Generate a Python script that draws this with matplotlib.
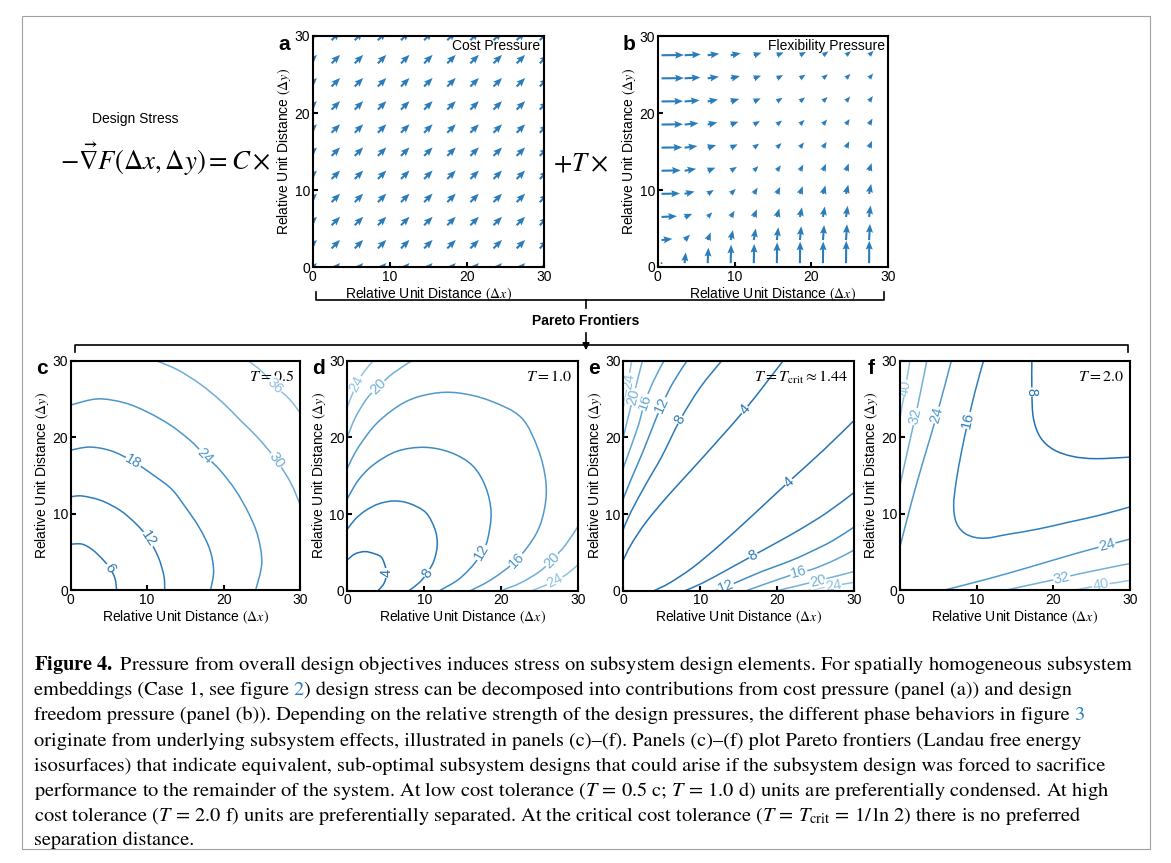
import numpy as np
import matplotlib
matplotlib.use("Agg")
import matplotlib.pyplot as plt
from matplotlib.patches import Rectangle, PathPatch
from matplotlib.path import Path

plt.rcParams['font.family'] = ['Liberation Sans', 'DejaVu Sans']
plt.rcParams['mathtext.fontset'] = 'stix'

W, H = 1171, 863

# ---------------- data ----------------
ticks = [0, 10, 20, 30]

# (a) cost pressure: same vector everywhere
cost_grid = [0, 3, 6, 9, 12, 15, 18, 21, 24, 27, 30]
cost_dx = 1.1
cost_dy = 1.1

# (b) flexibility pressure
# row = own coordinate (x for the x-component), col = the other coordinate
flex_grid = [0.5, 3.5, 6.5, 9.5, 12.5, 15.5, 18.5, 21.5, 24.5, 27.5]
flex_own = [
    [0.00, 1.40, 2.00, 2.40, 2.50, 2.70, 2.80, 2.80, 2.90, 2.90],
    [0.15, 0.70, 1.00, 1.30, 1.50, 1.65, 1.80, 1.95, 2.05, 2.10],
    [0.10, 0.40, 0.60, 0.80, 1.00, 1.10, 1.25, 1.35, 1.45, 1.50],
    [0.05, 0.30, 0.50, 0.65, 0.80, 0.90, 1.00, 1.10, 1.20, 1.30],
    [0.05, 0.25, 0.40, 0.50, 0.60, 0.70, 0.80, 0.90, 0.95, 1.00],
    [0.04, 0.20, 0.33, 0.43, 0.52, 0.60, 0.68, 0.75, 0.82, 0.88],
    [0.04, 0.18, 0.28, 0.37, 0.45, 0.52, 0.60, 0.66, 0.72, 0.78],
    [0.03, 0.15, 0.25, 0.33, 0.40, 0.47, 0.53, 0.59, 0.64, 0.70],
    [0.03, 0.13, 0.22, 0.30, 0.36, 0.42, 0.48, 0.53, 0.58, 0.63],
    [0.03, 0.12, 0.20, 0.27, 0.33, 0.38, 0.44, 0.49, 0.53, 0.58],
]

# (c) T = 0.5
c_levels = [6, 12, 18, 24, 30, 36]
c_paths = [
    [(0, 6.0), (1.5, 6.0), (2.8, 5.3), (4.0, 4.2), (5.1, 2.9), (5.8, 1.5), (6.0, 0)],
    [(0, 12.2), (1.5, 12.3), (4, 11.7), (6.5, 10.4), (8.6, 8.6), (10.2, 6.7), (11.5, 4.2), (12.2, 1.8), (12.3, 0)],
    [(0, 18.3), (2.5, 18.7), (5.3, 18.2), (8.2, 16.8), (11, 14.9), (13.2, 13.2), (14.9, 11), (16.8, 8.2),
     (18.2, 5.3), (18.7, 2.5), (18.3, 0)],
    [(0, 24.2), (3.5, 25), (7, 24.5), (10, 23.3), (13, 21.6), (15.6, 19.6), (17.6, 17.6), (19.6, 15.6),
     (21.6, 13), (23.3, 10), (24.5, 7), (25, 3.5), (24.2, 0)],
    [(11.2, 30), (14, 28.8), (17, 26.9), (19.8, 24.6), (22.2, 22.2), (24.6, 19.8), (26.9, 17), (28.8, 14), (30, 11.2)],
    [(23.2, 30), (25, 28.6), (26.7, 26.7), (28.6, 25), (30, 23.2)],
]
c_label_at = [4, 5, 3, 6, 6, 2]

# (d) T = 1.0
d_levels = [4, 8, 12, 16, 20, 20, 24, 24]
d_paths = [
    [(0, 4), (1, 4.8), (2.3, 5.1), (3.6, 4.8), (4.4, 4.4), (4.8, 3.6), (5.1, 2.3), (4.8, 1), (4, 0)],
    [(0, 8), (1, 9.3), (2.3, 10.4), (4, 11.3), (6, 11.7), (8, 11.4), (10.2, 10.2), (11.4, 8), (11.7, 6),
     (11.3, 4), (10.4, 2.3), (9.3, 1), (8, 0)],
    [(0, 12), (1.5, 14.5), (3.5, 16.5), (6.5, 18.2), (10.1, 18.7), (13.5, 18), (16.3, 16.3), (18, 13.5),
     (18.7, 10.1), (18.2, 6.5), (17.4, 5.0), (16.5, 3.5), (14.5, 1.5), (12, 0)],
    [(0, 16), (1.5, 18.8), (4, 22), (7.5, 24.6), (11, 25.7), (14.4, 25.8), (18.5, 24.8), (22.6, 22.6),
     (24.8, 18.5), (25.8, 14.4), (25.7, 11), (24.6, 7.5), (22, 4), (18.8, 1.5), (16, 0)],
    [(0, 20), (1, 22.5), (2.5, 25), (4, 26.6), (6, 28.4), (8.4, 30)],
    [(20, 0), (22.5, 1), (25, 2.5), (26.6, 4), (28.4, 6), (30, 8.4)],
    [(0, 24), (0.6, 25.5), (1.25, 27), (2.2, 28.6), (3.4, 30)],
    [(24, 0), (25.5, 0.6), (27, 1.25), (28.6, 2.2), (30, 3.4)],
]
d_label_at = [6, 10, 10, 12, 3, 3, 2, 2]

# (e) T = Tcrit
e_levels = [4, 4, 8, 8, 12, 12, 16, 16, 20, 20, 24, 24]
e_paths = [
    [(0, 4), (1, 6), (3, 9), (6, 12.6), (10, 17), (15.8, 23.6), (20.8, 30)],
    [(4, 0), (6, 1), (9, 3), (12.6, 6), (17, 10), (21.5, 14.2), (26, 18.3), (30, 22.2)],
    [(0, 8), (1, 10.3), (3, 14), (5, 17.5), (7.4, 22.3), (10, 26.5), (12.8, 30)],
    [(8, 0), (10.3, 1), (14, 3), (16.9, 4.6), (20, 6.3), (23, 8), (26.5, 10.2), (30, 12.8)],
    [(0, 12), (1, 14.5), (2.5, 18), (3.8, 21.3), (5, 24.2), (6.5, 27.2), (8.3, 30)],
    [(12, 0), (13.3, 0.55), (14.5, 1), (18, 2.5), (21.5, 3.8), (24.2, 5), (27.2, 6.5), (30, 8.3)],
    [(0, 16), (1, 18.8), (2, 21.7), (2.8, 24.6), (4, 27.5), (5.3, 30)],
    [(16, 0), (18.8, 1), (21.7, 2), (22.8, 2.4), (24.6, 2.8), (27.5, 4), (30, 5.3)],
    [(0, 20), (0.6, 22.5), (1.3, 25.3), (1.9, 27.7), (2.5, 30)],
    [(20, 0), (22.5, 0.6), (25.3, 1.3), (27.7, 1.9), (30, 2.5)],
    [(0, 24), (0.35, 25.6), (0.65, 27.3), (0.85, 28.6), (1.1, 30)],
    [(24, 0), (25.6, 0.35), (27.3, 0.65), (28.6, 0.85), (30, 1.1)],
]
e_label_at = [5, 5, 4, 3, 4, 1, 3, 3, 2, 2, 2, 2]

# (f) T = 2.0
f_levels = [8, 16, 24, 24, 32, 32, 40, 40]
f_paths = [
    [(17.2, 30), (17.2, 25.9), (17.4, 22.5), (18.3, 20), (20, 18.4), (22.5, 17.5), (25.5, 17.2), (30, 17.4)],
    [(10.9, 30), (9.8, 26), (8.9, 22.2), (8, 18), (7.3, 14), (7.0, 11), (7.4, 8.7), (8.7, 7.3), (10.9, 6.8),
     (14, 7.3), (18, 8), (22, 8.9), (26, 9.8), (30, 10.9)],
    [(0, 5.7), (1.5, 11.5), (3, 16.8), (4.8, 22.9), (6.7, 30)],
    [(5.7, 0), (11.5, 1.5), (16.8, 3), (22.9, 4.8), (27, 5.9), (30, 6.7)],
    [(0, 13.7), (1, 18.3), (2, 22.7), (2.8, 26.5), (3.5, 30)],
    [(13.7, 0), (18.3, 1), (21.1, 1.6), (22.7, 2), (26.5, 2.8), (30, 3.5)],
    [(0, 22.5), (0.35, 24.5), (0.7, 26.4), (1, 28.2), (1.3, 30)],
    [(22.5, 0), (24.5, 0.35), (26.2, 0.7), (28.2, 1), (30, 1.3)],
]
f_label_at = [1, 2, 3, 4, 2, 2, 2, 2]

caption = [
    r"$\mathbf{Figure\ 4.}$ Pressure from overall design objectives induces stress on subsystem design elements. For spatially homogeneous subsystem",
    ("embeddings (Case 1, see figure", "2", ") design stress can be decomposed into contributions from cost pressure (panel (a)) and design"),
    ("freedom pressure (panel (b)). Depending on the relative strength of the design pressures, the different phase behaviors in figure", "3", ""),
    "originate from underlying subsystem effects, illustrated in panels (c)\u2013(f). Panels (c)\u2013(f) plot Pareto frontiers (Landau free energy",
    "isosurfaces) that indicate equivalent, sub-optimal subsystem designs that could arise if the subsystem design was forced to sacrifice",
    r"performance to the remainder of the system. At low cost tolerance ($T\,=\,0.5$ c; $T\,=\,1.0$ d) units are preferentially condensed. At high",
    r"cost tolerance ($T\,=\,2.0$ f) units are preferentially separated. At the critical cost tolerance ($T\,=\,T_{\mathrm{crit}}\,=\,1/\,\ln\,2$) there is no preferred",
    "separation distance.",
]

# ---------------- styles ----------------
ARROW = '#2a7cba'
c_colors = ['#2b78b7', '#2e7cba', '#3a87c2', '#4d96ca', '#6dadd7', '#8fc1e0']
d_colors = ['#2171b5', '#2b7bba', '#3c8bc4', '#5199cc', '#6fb0d8', '#6fb0d8', '#8fc2e0', '#8fc2e0']
e_colors = ['#2474b6', '#2474b6', '#2b7bba', '#2b7bba', '#3f8dc5', '#3f8dc5', '#5ea5d2', '#5ea5d2',
            '#74b2d8', '#74b2d8', '#8fc2e0', '#8fc2e0']
f_colors = ['#2171b5', '#2f7fbd', '#4f98cb', '#4f98cb', '#72b0d8', '#72b0d8', '#93c4e2', '#93c4e2']
FS = 10

fig = plt.figure(figsize=(W / 100, H / 100), dpi=100)


def px_axes(x0, y0, x1, y1):
    return fig.add_axes([x0 / W, 1 - y1 / H, (x1 - x0) / W, (y1 - y0) / H])


def setup(ax, letter):
    ax.set_xlim(0, 30)
    ax.set_ylim(0, 30)
    ax.set_xticks(ticks)
    ax.set_yticks(ticks)
    ax.tick_params(direction='in', length=3.5, width=1.5, labelsize=FS, pad=2)
    for s in ax.spines.values():
        s.set_linewidth(1.5)
    ax.set_xlabel(r'Relative Unit Distance $(\Delta x)$', fontsize=FS, labelpad=1)
    ax.set_ylabel(r'Relative Unit Distance $(\Delta y)$', fontsize=FS, labelpad=1)
    ax.text(-0.125, 0.965, letter, transform=ax.transAxes, fontsize=15,
            fontweight='bold', ha='center', va='center')


def smooth_path(xy):
    # cubic Bezier segments through the traced points (Catmull-Rom tangents)
    p = np.vstack([xy[0], xy, xy[-1]])
    verts = [xy[0]]
    codes = [Path.MOVETO]
    for i in range(1, len(p) - 2):
        c1 = p[i] + (p[i + 1] - p[i - 1]) / 6
        c2 = p[i + 1] - (p[i + 2] - p[i]) / 6
        verts += [c1, c2, p[i + 1]]
        codes += [Path.CURVE4] * 3
    return Path(verts, codes)


def contour_panel(ax, levels, paths, label_at, colors, title):
    for lev, pts, k, col in zip(levels, paths, label_at, colors):
        xy = np.array(pts, dtype=float)
        ax.add_patch(PathPatch(smooth_path(xy), fill=False, ec=col, lw=1.1, zorder=2))
        p0 = xy[max(k - 1, 0)]
        p1 = xy[min(k + 1, len(xy) - 1)]
        ang = np.degrees(np.arctan2(p1[1] - p0[1], p1[0] - p0[0]))
        if ang > 90:
            ang -= 180
        if ang <= -90:
            ang += 180
        ax.text(xy[k, 0], xy[k, 1], str(lev), color=col, fontsize=10.5, rotation=ang,
                rotation_mode='anchor', ha='center', va='center', zorder=2.2,
                bbox=dict(fc='white', ec='none', pad=0.4), clip_on=True)
    ax.text(0.975, 0.965, title, transform=ax.transAxes, ha='right', va='top',
            fontsize=11.5, zorder=2.1)


QUIV = dict(angles='xy', scale_units='xy', scale=1, color=ARROW,
            width=0.009, headwidth=3.4, headlength=4.2, headaxislength=3.7)

# (a)
ax_a = px_axes(312.7, 36, 544, 267.3)
gx, gy = np.meshgrid(cost_grid, cost_grid)
ax_a.quiver(gx, gy, np.full(gx.shape, cost_dx), np.full(gx.shape, cost_dy), pivot='mid', **QUIV)
setup(ax_a, 'a')
ax_a.text(0.985, 0.985, 'Cost Pressure', transform=ax_a.transAxes, ha='right', va='top', fontsize=FS)

# (b)
ax_b = px_axes(657.7, 36, 888.3, 267)
bx, by = np.meshgrid(flex_grid, flex_grid)
own = np.array(flex_own)
ax_b.quiver(bx, by, own.T, own, pivot='tail', **QUIV)
setup(ax_b, 'b')
ax_b.text(0.985, 0.985, 'Flexibility Pressure', transform=ax_b.transAxes, ha='right', va='top', fontsize=FS)

# (c)-(f)
ax_c = px_axes(70.7, 360.7, 300, 590)
contour_panel(ax_c, c_levels, c_paths, c_label_at, c_colors, r'$T = 0.5$')
setup(ax_c, 'c')
ax_d = px_axes(347.3, 360.7, 578, 590.7)
contour_panel(ax_d, d_levels, d_paths, d_label_at, d_colors, r'$T = 1.0$')
setup(ax_d, 'd')
ax_e = px_axes(623.3, 360.7, 854, 590.7)
contour_panel(ax_e, e_levels, e_paths, e_label_at, e_colors, r'$T = T_{\mathrm{crit}} \approx 1.44$')
setup(ax_e, 'e')
ax_f = px_axes(900, 360.7, 1130, 590.3)
contour_panel(ax_f, f_levels, f_paths, f_label_at, f_colors, r'$T = 2.0$')
setup(ax_f, 'f')

# overlay in pixel coordinates
ov = fig.add_axes([0, 0, 1, 1])
ov.set_xlim(0, W)
ov.set_ylim(H, 0)
ov.axis('off')
ov.patch.set_alpha(0)

ov.add_patch(Rectangle((22, 16), 1128, 833, fill=False, ec='#a0a0a0', lw=0.8))
ov.text(135, 119, 'Design Stress', ha='center', va='center', fontsize=FS)
ov.text(60, 170, r'$-\vec{\nabla}F(\Delta x,\Delta y) = C\times$', fontsize=19.3, va='baseline')
ov.text(553, 170, r'$+T\times$', fontsize=19.3, va='baseline')

ov.plot([316, 316, 884, 884], [292, 300, 300, 292], color='k', lw=1.2)
ov.plot([586, 586], [300, 308], color='k', lw=1.2)
ov.text(586, 321, 'Pareto Frontiers', ha='center', va='center', fontsize=FS, fontweight='bold')
ov.plot([75, 75, 1128, 1128], [352, 345, 345, 352], color='k', lw=1.2)
ov.annotate('', xy=(586, 353), xytext=(586, 330),
            arrowprops=dict(arrowstyle='-|>', color='k', lw=1.2, mutation_scale=10))

# caption
baselines = [670, 695, 720, 746, 771, 796, 821, 845]
cap_texts = []
fs0 = 14
for line, yb in zip(caption, baselines):
    if isinstance(line, tuple):
        t0 = ov.text(34, yb, line[0], fontsize=fs0, family='STIXGeneral', va='baseline')
        t1 = ov.annotate(line[1], xy=(1, 0), xycoords=t0, xytext=(3.2, 0), textcoords='offset points',
                         fontsize=fs0, family='STIXGeneral', color='#2a7fc1', va='bottom')
        cap_texts += [t0, t1]
        if line[2]:
            t2 = ov.annotate(line[2], xy=(1, 0), xycoords=t1, fontsize=fs0,
                             family='STIXGeneral', va='bottom')
            cap_texts.append(t2)
    else:
        cap_texts.append(ov.text(34, yb, line, fontsize=fs0, family='STIXGeneral', va='baseline'))

fig.canvas.draw()
w1 = cap_texts[0].get_window_extent().width
fs = fs0 * 1104 / w1
for t in cap_texts:
    t.set_fontsize(fs)

fig.savefig('out.png', dpi=100)
